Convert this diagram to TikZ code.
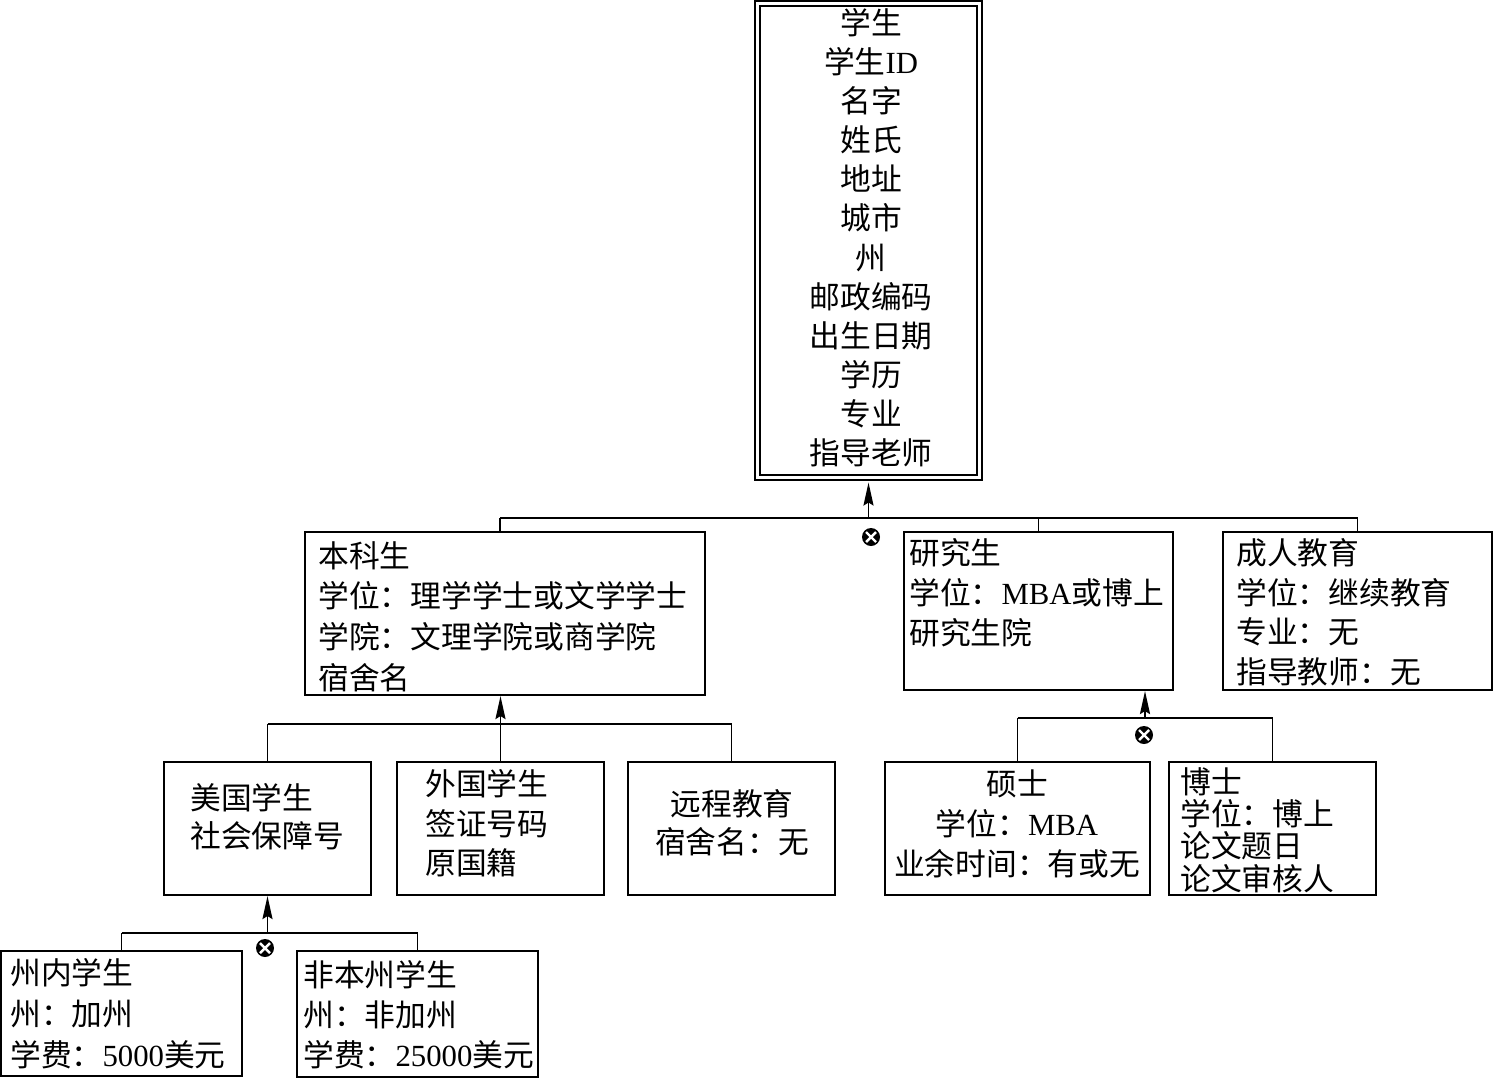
\documentclass[tikz,border=0pt]{standalone}
\usepackage{fontspec}
\setmainfont{Noto Sans CJK SC}
\newfontfamily\lat{Liberation Serif}
\usetikzlibrary{arrows.meta,fit}

\newcommand\tsize[1]{\fontsize{17.5pt}{#1}\selectfont}

\tikzset{
  box/.style={draw, line width=1.2pt, inner sep=0pt},
  dbox/.style={draw, line width=1.3pt, double=white, double distance=1.4pt, inner sep=0pt},
  lbl/.style={anchor=north west, align=left, inner sep=0pt},
  clbl/.style={anchor=north, align=center, inner sep=0pt},
  gen/.style={line width=1.1pt, -{Stealth[length=0.46cm, width=0.2cm, inset=0.06cm]}},
  bus/.style={line width=1.1pt},
  xor/.style={circle, fill=black, inner sep=0pt, minimum size=0.36cm,
    path picture={
      \draw[white, line width=1.4pt]
        ([shift={(-0.1cm,-0.1cm)}]path picture bounding box.center) --
        ([shift={(0.1cm,0.1cm)}]path picture bounding box.center);
      \draw[white, line width=1.4pt]
        ([shift={(-0.1cm,0.1cm)}]path picture bounding box.center) --
        ([shift={(0.1cm,-0.1cm)}]path picture bounding box.center);
    }},
}

\begin{document}
\begin{tikzpicture}[x=0.02cm, y=-0.02cm]
\useasboundingbox (0,0) rectangle (1494,1079);

% boxes
\node[dbox, fit={(757.5,3.5) (979.5,477.5)}] (stu) {};
\node[box, fit={(305,532) (705,695)}] (ug) {};
\node[box, fit={(904,532) (1173,690)}] (grad) {};
\node[box, fit={(1223,532) (1492,690)}] (adult) {};
\node[box, fit={(164,762) (371,895)}] (us) {};
\node[box, fit={(397,762) (604,895)}] (intl) {};
\node[box, fit={(628,762) (835,895)}] (dist) {};
\node[box, fit={(885,762) (1150,895)}] (ms) {};
\node[box, fit={(1169,762) (1376,895)}] (phd) {};
\node[box, fit={(1,951) (242,1076)}] (instate) {};
\node[box, fit={(297,951) (538,1077)}] (outstate) {};

% texts
\node[clbl, font=\tsize{22.25pt}] (stut) at (871,8)
  {学生\\学生{\lat ID}\\名字\\姓氏\\地址\\城市\\州\\邮政编码\\出生日期\\学历\\专业\\指导老师};
\node[lbl, font=\tsize{23.2pt}] (ugt) at (318,541)
  {本科生\\学位：理学学士或文学学士\\学院：文理学院或商学院\\宿舍名};
\node[lbl, font=\tsize{22.8pt}] (gradt) at (909,538)
  {研究生\\学位：{\lat MBA}或博上\\研究生院};
\node[lbl, font=\tsize{22.6pt}] (adultt) at (1236,538)
  {成人教育\\学位：继续教育\\专业：无\\指导教师：无};
\node[lbl, font=\tsize{21.6pt}] (ust) at (190,783)
  {美国学生\\社会保障号};
\node[lbl, font=\tsize{22.5pt}] (intlt) at (425,769)
  {外国学生\\签证号码\\原国籍};
\node[clbl, font=\tsize{21.6pt}] (distt) at (732,789)
  {远程教育\\宿舍名：无};
\node[clbl, font=\tsize{22.8pt}] (mst) at (1017,769)
  {硕士\\学位：{\lat MBA}\\业余时间：有或无};
\node[lbl, font=\tsize{18.4pt}] (phdt) at (1180,767)
  {博士\\学位：博上\\论文题日\\论文审核人};
\node[lbl, font=\tsize{23.3pt}] (instatet) at (10,958)
  {州内学生\\州：加州\\学费：{\lat 5000}美元};
\node[lbl, font=\tsize{22.8pt}] (outstatet) at (303,960)
  {非本州学生\\州：非加州\\学费：{\lat 25000}美元};

% student -> ug, grad, adult
\coordinate (b1) at (871,518);
\coordinate (b2) at (500,724);
\draw[bus] (b2 |- b1) -- (adult.north |- b1);
\draw[bus] (b2 |- ug.north) -- (b2 |- b1);
\draw[bus] (grad.north) -- (grad.north |- b1);
\draw[bus] (adult.north) -- (adult.north |- b1);
\draw[gen, shorten >=2.2pt] (stu.south |- b1) -- (stu.south);
\node[xor] (x1) at (871,537) {};

% ug -> us, intl, dist
\draw[bus] (us.north |- b2) -- (dist.north |- b2);
\draw[bus] (us.north) -- (us.north |- b2);
\draw[bus] (dist.north) -- (dist.north |- b2);
\draw[gen] (intl.north) -- (intl.north |- ug.south);

% grad -> ms, phd
\coordinate (b3) at (1145,718);
\draw[bus] (ms.north |- b3) -- (phd.north |- b3);
\draw[bus] (ms.north) -- (ms.north |- b3);
\draw[bus] (phd.north) -- (phd.north |- b3);
\draw[gen] (b3) -- (b3 |- grad.south);
\node[xor] (x3) at (1144,735) {};

% us -> instate, outstate
\coordinate (b4) at (265,933);
\draw[bus] (instate.north |- b4) -- (outstate.north |- b4);
\draw[bus] (instate.north) -- (instate.north |- b4);
\draw[bus] (outstate.north) -- (outstate.north |- b4);
\draw[gen] (us.south |- b4) -- (us.south);
\node[xor] (x4) at (265,948) {};
\end{tikzpicture}
\end{document}
